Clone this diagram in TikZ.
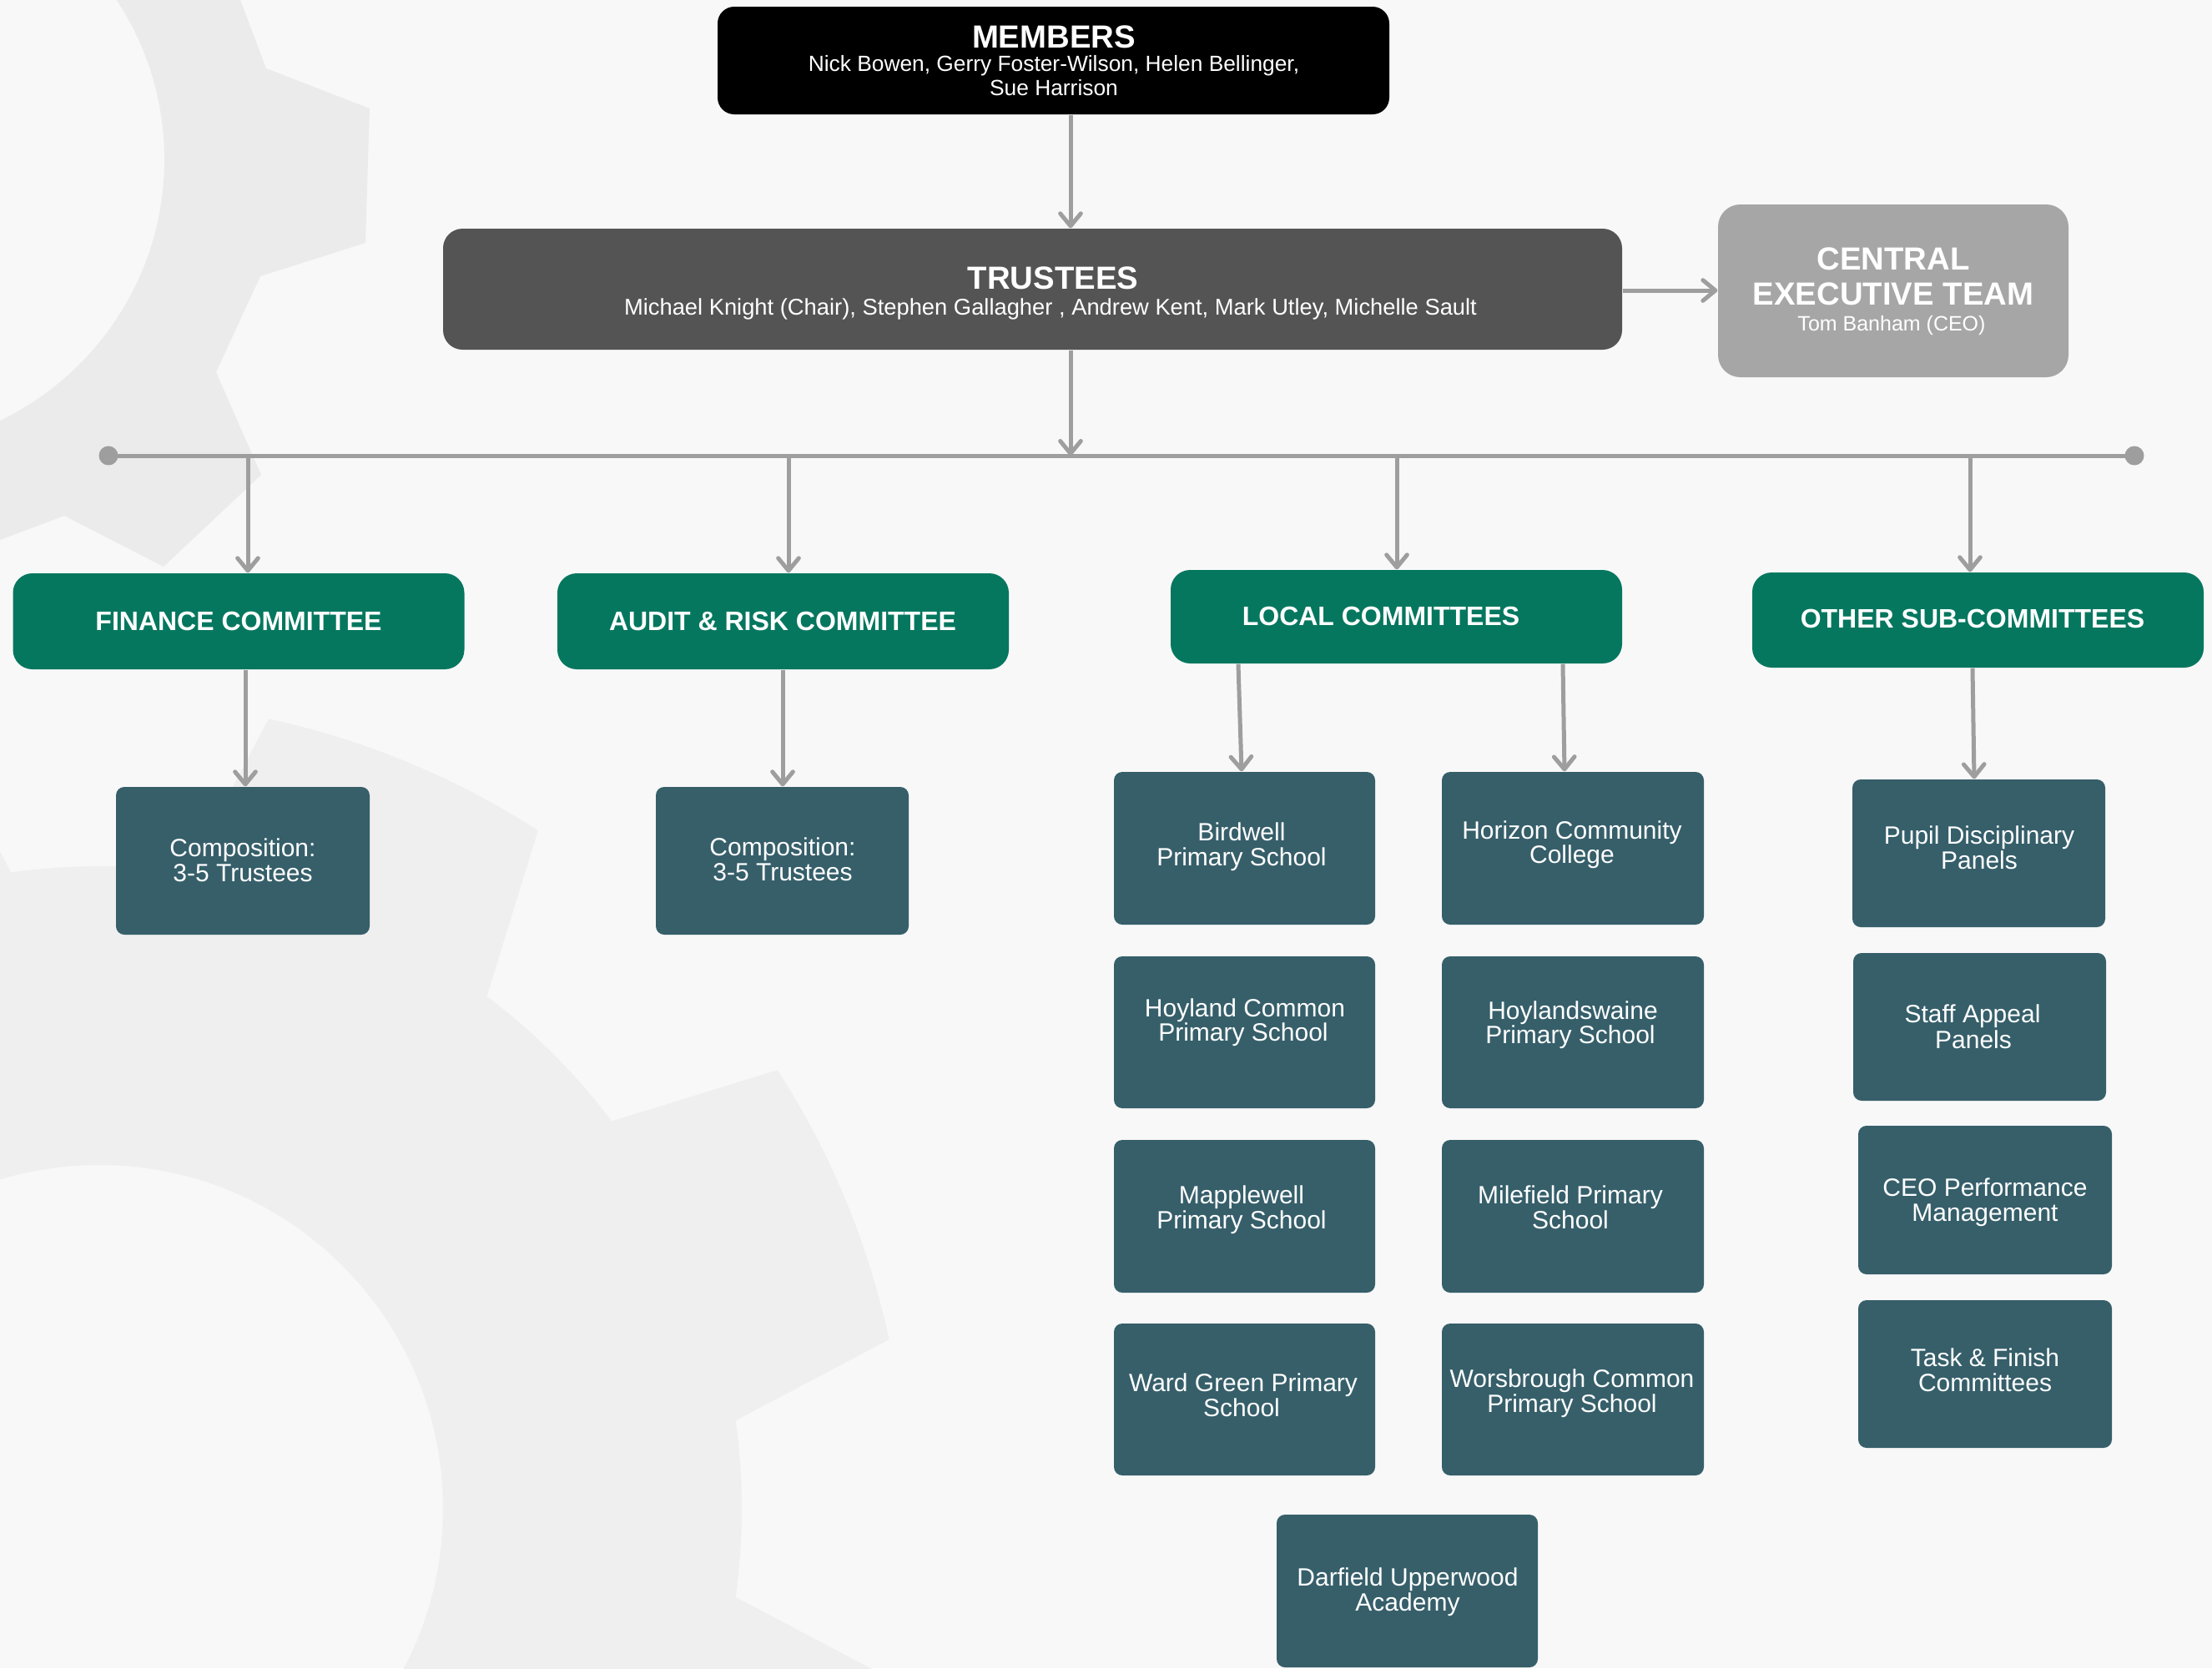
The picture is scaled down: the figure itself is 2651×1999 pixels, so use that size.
\documentclass[tikz,border=0pt]{standalone}
\usepackage{fontspec}
\setmainfont{Liberation Sans}
\usetikzlibrary{arrows.meta}
\definecolor{bgcol}{HTML}{F8F8F8}
\definecolor{gearA}{HTML}{EBEBEB}
\definecolor{gearB}{HTML}{EFEFEF}
\definecolor{trgray}{HTML}{545454}
\definecolor{cetgray}{HTML}{A6A6A6}
\definecolor{comgreen}{HTML}{05775F}
\definecolor{slate}{HTML}{365F6A}
\definecolor{linegray}{HTML}{9E9E9E}
\begin{document}
\begin{tikzpicture}[x=0.3pt,y=-0.3pt,
  boxbase/.style={draw=none, inner sep=0pt, rectangle},
  sz/.style 2 args={minimum width=#1*0.3pt, minimum height=#2*0.3pt},
  memberbox/.style={boxbase, fill=black, rounded corners=6pt},
  trusteebox/.style={boxbase, fill=trgray, rounded corners=7pt},
  cetbox/.style={boxbase, fill=cetgray, rounded corners=8pt},
  combox/.style={boxbase, fill=comgreen, rounded corners=7pt, sz={541}{115}},
  unitbox/.style={boxbase, fill=slate, rounded corners=3pt},
  txt/.style={text=white, inner sep=0pt, anchor=base},
  bigtitle/.style={txt, font=\fontsize{11.5pt}{11.5pt}\selectfont\bfseries},
  comtitle/.style={txt, font=\fontsize{9.6pt}{9.6pt}\selectfont\bfseries},
  unittext/.style={txt, font=\fontsize{9pt}{9pt}\selectfont},
  names/.style={txt, font=\fontsize{7.9pt}{7.9pt}\selectfont},
  conn/.style={draw=linegray, line width=1.5pt},
  arr/.style={conn, -{Straight Barb[length=4.5pt,width=7.4pt,round]}},
  dot/.style={circle, fill=linegray, inner sep=0pt, minimum size=6.9pt}
]
\useasboundingbox (0,0) rectangle (2651,1999);
\fill[bgcol] (0,0) rectangle (2651,1999);

% background gears
\begin{scope}
  \clip (0,0) rectangle (2651,1999);
  \fill[gearA, even odd rule] (-700,-300) -- (175,-300) -- (288,0) -- (319,82) -- (443,130)
    -- (438,291) -- (312,331) -- (259,446) -- (313,569) -- (196,679) -- (77,618)
    -- (0,647) -- (-700,911) -- cycle
    (-150,191) circle[radius=347];
  \begin{scope}[shift={(119,1808)}, yscale=-1]
    \fill[gearB, even odd rule] (7.9:770)
      foreach \c in {22.5,67.5,...,337.5}{
        -- (\c-14.6:770) -- (\c-10.4:968)
        arc[start angle=\c-10.4, delta angle=20.8, radius=968]
        -- (\c+14.6:770)
        arc[start angle=\c+14.6, delta angle=15.8, radius=770]
      } -- cycle
      (0,0) circle[radius=412];
  \end{scope}
\end{scope}

% top level boxes
\node[memberbox, sz={805}{129}] (members) at (1262.5,72.5) {};
\node[trusteebox, sz={1413}{145}] (trustees) at (1237.5,346.5) {};
\node[cetbox, sz={420}{207}] (central) at (2269,348.5) {};

\node[bigtitle] (membersT) at (1263,57) {MEMBERS};
\node[names] (membersN1) at (1263,85) {Nick Bowen, Gerry Foster-Wilson, Helen Bellinger,};
\node[names] (membersN2) at (1263,114) {Sue Harrison};

\node[bigtitle] (trusteesT) at (1262,346) {TRUSTEES};
\node[names, font=\fontsize{8.2pt}{8.2pt}\selectfont] (trusteesN) at (1259,377)
  {Michael Knight (Chair), Stephen Gallagher , Andrew Kent, Mark Utley, Michelle Sault};

\node[bigtitle] (centralT1) at (2269,323) {CENTRAL};
\node[bigtitle] (centralT2) at (2269,365) {EXECUTIVE TEAM};
\node[names, font=\fontsize{7.5pt}{7.5pt}\selectfont] (centralN) at (2267,396) {Tom Banham (CEO)};

% committees
\node[combox] (finance) at (286,744.5) {};
\node[combox] (audit) at (938.5,744.5) {};
\node[combox, sz={541}{112}] (local) at (1673.5,739) {};
\node[combox, sz={541}{114}] (other) at (2370.5,743) {};
\node[comtitle] (financeT) at (286,755) {FINANCE COMMITTEE};
\node[comtitle] (auditT) at (938,755) {AUDIT \& RISK COMMITTEE};
\node[comtitle] (localT) at (1655,749) {LOCAL COMMITTEES};
\node[comtitle] (otherT) at (2364,752) {OTHER SUB-COMMITTEES};

% composition boxes
\node[unitbox, sz={304}{177}] (comp1) at (291,1031.5) {};
\node[unitbox, sz={303}{177}] (comp2) at (937.5,1031.5) {};
\node[unittext] (comp1a) at (291,1026) {Composition:};
\node[unittext] (comp1b) at (291,1056) {3-5 Trustees};
\node[unittext] (comp2a) at (938,1025) {Composition:};
\node[unittext] (comp2b) at (938,1055) {3-5 Trustees};

% schools
\node[unitbox, sz={313}{183}] (birdwell) at (1491.5,1016.5) {};
\node[unitbox, sz={314}{183}] (horizon) at (1885,1016.5) {};
\node[unitbox, sz={313}{182}] (hoyland) at (1491.5,1237) {};
\node[unitbox, sz={314}{182}] (hoylandswaine) at (1885,1237) {};
\node[unitbox, sz={313}{183}] (mapplewell) at (1491.5,1457.5) {};
\node[unitbox, sz={314}{183}] (milefield) at (1885,1457.5) {};
\node[unitbox, sz={313}{182}] (wardgreen) at (1491.5,1677) {};
\node[unitbox, sz={314}{182}] (worsbrough) at (1885,1677) {};
\node[unitbox, sz={313}{183}] (darfield) at (1686.5,1906.5) {};

\node[unittext] (birdwellA) at (1488,1007) {Birdwell};
\node[unittext] (birdwellB) at (1488,1037) {Primary School};
\node[unittext] (horizonA) at (1884,1005) {Horizon Community};
\node[unittext] (horizonB) at (1884,1034) {College};
\node[unittext] (hoylandA) at (1492,1218) {Hoyland Common};
\node[unittext] (hoylandB) at (1490,1247) {Primary School};
\node[unittext] (hoylandswaineA) at (1885,1221) {Hoylandswaine};
\node[unittext] (hoylandswaineB) at (1882,1250) {Primary School};
\node[unittext] (mapplewellA) at (1488,1442) {Mapplewell};
\node[unittext] (mapplewellB) at (1488,1472) {Primary School};
\node[unittext] (milefieldA) at (1882,1442) {Milefield Primary};
\node[unittext] (milefieldB) at (1882,1472) {School};
\node[unittext] (wardgreenA) at (1490,1667) {Ward Green Primary};
\node[unittext] (wardgreenB) at (1488,1697) {School};
\node[unittext] (worsbroughA) at (1884,1662) {Worsbrough Common};
\node[unittext] (worsbroughB) at (1884,1692) {Primary School};
\node[unittext] (darfieldA) at (1687,1900) {Darfield Upperwood};
\node[unittext] (darfieldB) at (1687,1930) {Academy};

% other sub-committees
\node[unitbox, sz={303}{177}] (pupil) at (2371.5,1022.5) {};
\node[unitbox, sz={303}{177}] (staff) at (2372.5,1230.5) {};
\node[unitbox, sz={304}{178}] (ceo) at (2379,1438) {};
\node[unitbox, sz={304}{177}] (task) at (2379,1646.5) {};
\node[unittext] (pupilA) at (2372,1011) {Pupil Disciplinary};
\node[unittext] (pupilB) at (2372,1041) {Panels};
\node[unittext] (staffA) at (2364,1225) {Staff Appeal};
\node[unittext] (staffB) at (2365,1256) {Panels};
\node[unittext] (ceoA) at (2379,1433) {CEO Performance};
\node[unittext] (ceoB) at (2379,1463) {Management};
\node[unittext] (taskA) at (2379,1637) {Task \& Finish};
\node[unittext] (taskB) at (2379,1667) {Committees};

% connectors
\coordinate (mx) at (1283,546);
\draw[arr] (members.south -| mx) -- (trustees.north -| mx);
\draw[arr] (trustees.east |- 0,348) -- (central.west |- 0,348);

\node[dot] (busL) at (130,546) {};
\node[dot] (busR) at (2558,546) {};
\draw[conn] (busL.center) -- (busR.center);
\draw[arr] (trustees.south -| mx) -- (mx);

\coordinate (bf) at (297,546);
\coordinate (ba) at (945,546);
\coordinate (bl) at (1674,546);
\coordinate (bo) at (2361,546);
\draw[arr] (bf) -- (finance.north -| bf);
\draw[arr] (ba) -- (audit.north -| ba);
\draw[arr] (bl) -- (local.north -| bl);
\draw[arr] (bo) -- (other.north -| bo);

\draw[arr] (finance.south -| 294,0) -- (comp1.north -| 294,0);
\draw[arr] (audit.south -| 938,0) -- (comp2.north -| 938,0);
\draw[arr] (local.south -| 1484,0) -- (birdwell.north -| 1488,0);
\draw[arr] (local.south -| 1873,0) -- (horizon.north -| 1875,0);
\draw[arr] (other.south -| 2364,0) -- (pupil.north -| 2366,0);
\end{tikzpicture}
\end{document}
